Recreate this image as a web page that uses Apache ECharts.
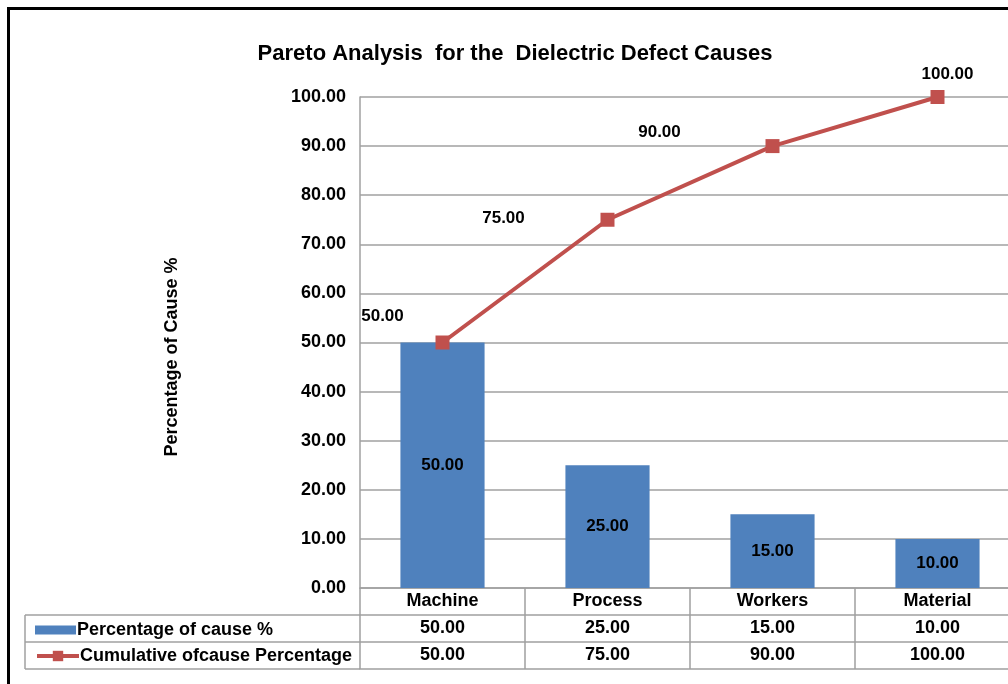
<!DOCTYPE html>
<html>
<head>
<meta charset="utf-8">
<script src="https://cdn.jsdelivr.net/npm/echarts@6/dist/echarts.min.js"></script>
<style>html,body{margin:0;padding:0;background:#fff}#c{width:1008px;height:684px}</style>
</head>
<body>
<div id="c"></div>
<script>
const categories = ['Machine', 'Process', 'Workers', 'Material'];
const percentValues = [50, 25, 15, 10];
const cumulativeValues = [50, 75, 90, 100];
const yTicks = { min: 0, max: 100, interval: 10 };
const seriesNames = ['Percentage of cause %', 'Cumulative ofcause Percentage'];
const yAxisTitle = 'Percentage of Cause %';
const chartTitle = 'Pareto Analysis  for the  Dielectric Defect Causes';

const FONT = 'Liberation Sans, Arial, sans-serif';
const GRID = { left: 360, top: 97, width: 660, height: 491, outerBoundsMode: 'none', containLabel: false };
const ROW = 27;
const GRAY = '#a0a0a0';
const BLUE = '#4F81BD';
const RED = '#C0504D';
const lineLabelOffsets = [[-60, -26], [-104, -1], [-113, -14], [10, -23]];

const fmt = v => Number(v).toFixed(2);
const bottom = GRID.top + GRID.height;

function tableAxis(data, offset, showLabel, showTick) {
  return {
    type: 'category', data: data, position: 'bottom', offset: offset, boundaryGap: true,
    axisLine: { show: true, lineStyle: { color: GRAY, width: 1.5 } },
    axisTick: { show: showTick, interval: 0, length: ROW, alignWithLabel: false, lineStyle: { color: GRAY, width: 1.5 } },
    axisLabel: { show: showLabel, interval: 0, margin: 4, color: '#000', fontFamily: FONT, fontWeight: 'bold', fontSize: 18 },
    splitLine: { show: false }
  };
}

const legendText = { fontFamily: FONT, fontWeight: 'bold', fontSize: 18, color: '#000', padding: [0, 0, 0, -4] };

const chart = echarts.init(document.getElementById('c'), null, { renderer: 'canvas' });
const option = {
  animation: false,
  backgroundColor: '#fff',
  title: {
    text: chartTitle,
    left: 510, top: 38, textAlign: 'center',
    textStyle: { fontFamily: FONT, fontWeight: 'bold', fontSize: 22, color: '#000' }
  },
  grid: GRID,
  legend: [
    {
      orient: 'vertical', left: 30, top: bottom + ROW + 1,
      itemWidth: 41, itemHeight: 9, textStyle: legendText,
      data: [{ name: seriesNames[0], icon: 'rect' }]
    },
    {
      orient: 'vertical', left: 30, top: bottom + ROW * 2,
      itemWidth: 42, itemHeight: 13, textStyle: legendText,
      lineStyle: { width: 4 },
      data: [{ name: seriesNames[1] }]
    }
  ],
  xAxis: [
    tableAxis(categories, 0, true, true),
    tableAxis(percentValues.map(fmt), ROW, true, true),
    tableAxis(cumulativeValues.map(fmt), ROW * 2, true, true),
    tableAxis(categories, ROW * 3, false, false)
  ],
  yAxis: {
    type: 'value', min: yTicks.min, max: yTicks.max, interval: yTicks.interval,
    axisLine: { show: true, lineStyle: { color: GRAY, width: 1.5 } },
    axisTick: { show: false },
    axisLabel: { formatter: v => fmt(v), margin: 14, color: '#000', fontFamily: FONT, fontWeight: 'bold', fontSize: 18 },
    splitLine: { show: true, lineStyle: { color: GRAY, width: 1.5 } }
  },
  graphic: [
    { type: 'rect', z: 100, silent: true, shape: { x: 8.5, y: 8.5, width: 1200, height: 900 }, style: { fill: 'none', stroke: '#000', lineWidth: 3 } },
    { type: 'text', x: 172, y: 357, rotation: Math.PI / 2,
      style: { text: yAxisTitle, align: 'center', verticalAlign: 'middle', fill: '#000', font: 'bold 18px ' + FONT } },
    { type: 'line', shape: { x1: 25, y1: bottom + ROW, x2: GRID.left, y2: bottom + ROW }, style: { stroke: GRAY, lineWidth: 1.5 } },
    { type: 'line', shape: { x1: 25, y1: bottom + ROW * 2, x2: GRID.left, y2: bottom + ROW * 2 }, style: { stroke: GRAY, lineWidth: 1.5 } },
    { type: 'line', shape: { x1: 25, y1: bottom + ROW * 3, x2: GRID.left, y2: bottom + ROW * 3 }, style: { stroke: GRAY, lineWidth: 1.5 } },
    { type: 'line', shape: { x1: 25, y1: bottom + ROW, x2: 25, y2: bottom + ROW * 3 }, style: { stroke: GRAY, lineWidth: 1.5 } }
  ],
  series: [
    {
      name: seriesNames[0], type: 'bar', data: percentValues, barWidth: '51%',
      itemStyle: { color: BLUE },
      label: { show: true, position: 'inside', formatter: p => fmt(p.value), color: '#000', fontFamily: FONT, fontWeight: 'bold', fontSize: 17 }
    },
    {
      name: seriesNames[1], type: 'line', z: 5,
      data: cumulativeValues.map((v, i) => ({ value: v, label: { offset: lineLabelOffsets[i] } })),
      symbol: 'rect', symbolSize: 14,
      lineStyle: { color: RED, width: 4 },
      itemStyle: { color: RED },
      label: { show: true, position: 'inside', formatter: p => fmt(p.value), color: '#000', fontFamily: FONT, fontWeight: 'bold', fontSize: 17 }
    }
  ]
};
chart.setOption(option);
</script>
</body>
</html>
